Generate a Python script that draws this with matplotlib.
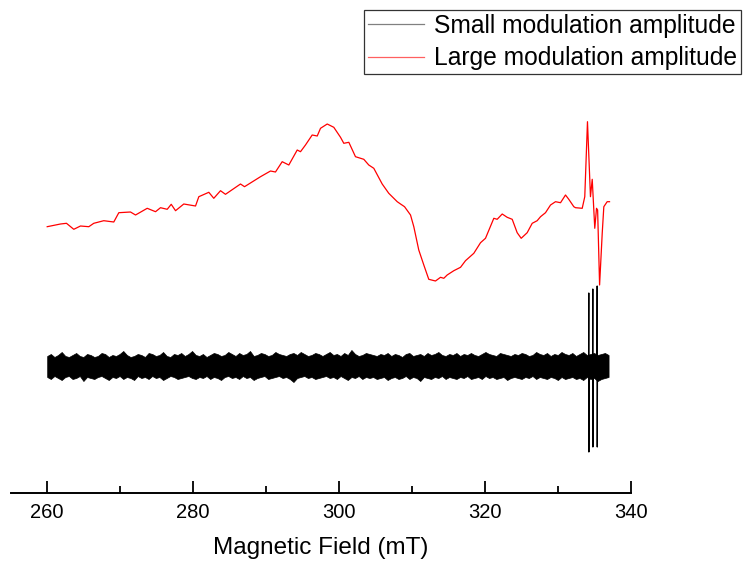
import numpy as np
import matplotlib
matplotlib.use("Agg")
from matplotlib import pyplot as plt

plt.rcParams['font.family'] = ['Liberation Sans', 'DejaVu Sans']

# Large modulation amplitude trace (field in mT, signal in a.u.)
red_field = [260.00, 261.82, 262.64, 263.64, 264.56, 265.70, 266.38, 267.75, 269.12, 269.81,
             271.41, 272.10, 273.70, 274.84, 275.52, 276.44, 276.99, 277.58, 278.71, 280.32,
             280.77, 282.14, 282.82, 283.74, 284.42, 286.48, 287.03, 289.22, 290.59, 291.27,
             292.19, 293.10, 294.25, 294.70, 295.38, 296.30, 296.99, 297.44, 298.36, 299.26,
             300.18, 300.63, 301.32, 302.23, 303.37, 304.05, 304.74, 305.89, 306.79, 307.95,
             308.40, 308.95, 309.77, 310.22, 310.90, 311.59, 312.27, 313.19, 313.88, 314.33,
             314.79, 315.70, 316.62, 317.30, 318.44, 319.36, 320.04, 321.18, 321.64, 322.33,
             323.01, 323.70, 324.38, 324.93, 325.75, 326.44, 327.12, 327.58, 328.26, 328.95,
             329.63, 330.32, 331.00, 331.45, 332.14, 332.37, 333.29, 333.64, 334.01, 334.42,
             334.66, 335.01, 335.25, 335.40, 335.67, 336.03, 336.25, 336.71, 337.03]
red_signal = [266.3, 269.0, 269.7, 263.7, 267.0, 266.3, 269.7, 272.3, 271.0, 280.3,
              281.0, 278.0, 284.7, 281.3, 285.3, 283.7, 288.7, 282.3, 289.0, 287.0,
              296.3, 300.7, 294.7, 302.3, 298.7, 309.0, 306.3, 316.3, 322.0, 321.0,
              331.3, 328.0, 343.0, 341.3, 348.0, 358.0, 357.0, 364.7, 369.0, 365.7,
              355.7, 349.7, 350.7, 336.3, 333.7, 328.0, 324.7, 309.0, 299.7, 291.3,
              289.0, 286.3, 278.0, 266.3, 243.0, 228.0, 213.7, 212.0, 215.7, 214.7,
              218.0, 222.3, 225.7, 232.3, 239.7, 250.3, 254.7, 274.7, 273.7, 279.0,
              275.7, 273.7, 260.3, 254.7, 260.3, 269.7, 272.3, 276.3, 280.3, 288.0,
              291.3, 290.3, 298.0, 293.7, 286.3, 285.3, 284.7, 296.3, 371.3, 296.3,
              313.7, 264.7, 284.7, 283.0, 208.0, 259.7, 286.3, 291.3, 291.3]

# Small modulation amplitude trace: noise band envelope around the baseline
noise_start, noise_end = 260.0, 336.9
baseline = 127
noise_upper = [10, 12, 9, 11, 14, 10, 9, 11, 13, 10, 9, 12, 11,
               9, 10, 13, 12, 9, 11, 10, 12, 15, 11, 9, 10, 12,
               11, 9, 13, 12, 10, 11, 14, 10, 9, 12, 11, 13, 10,
               12, 15, 11, 10, 12, 9, 11, 13, 12, 10, 11, 14, 12,
               10, 13, 11, 12, 15, 10, 11, 13, 12, 10, 11, 14, 12,
               11, 10, 12, 13, 11, 14, 12, 10, 11, 13, 12, 10, 12,
               14, 11, 12, 10, 13, 11, 16, 12, 10, 11, 13, 12, 11,
               10, 12, 11, 13, 10, 12, 11, 9, 12, 13, 10, 11, 12,
               10, 13, 11, 12, 14, 11, 10, 12, 11, 13, 10, 12, 11,
               13, 11, 10, 12, 14, 12, 11, 10, 13, 12, 11, 10, 12,
               11, 13, 12, 10, 11, 14, 12, 11, 13, 10, 12, 11, 14,
               12, 11, 13, 10, 12, 14, 11, 12, 13, 11, 12, 13, 11]
noise_lower = [-11, -13, -10, -12, -14, -11, -10, -13, -12, -10, -15, -11, -12,
               -13, -11, -10, -12, -14, -11, -12, -10, -13, -11, -12, -14, -10,
               -12, -11, -13, -10, -12, -11, -14, -12, -10, -11, -13, -12, -11,
               -10, -12, -13, -11, -12, -10, -13, -11, -12, -14, -11, -10, -12,
               -11, -13, -10, -12, -11, -14, -12, -11, -10, -13, -12, -11, -10,
               -12, -11, -13, -16, -12, -11, -10, -12, -11, -13, -12, -11, -10,
               -12, -11, -13, -10, -12, -14, -11, -12, -10, -13, -11, -12, -11,
               -13, -12, -11, -14, -12, -11, -13, -12, -10, -13, -11, -12, -15,
               -11, -12, -13, -11, -12, -10, -13, -11, -12, -13, -11, -12, -10,
               -13, -12, -11, -13, -10, -12, -11, -13, -12, -11, -14, -12, -11,
               -12, -13, -11, -12, -10, -13, -11, -12, -13, -11, -12, -14, -11,
               -13, -12, -11, -13, -12, -14, -11, -13, -12, -15, -13, -12, -11]

# Sharp lines near 335 mT in the small modulation trace
spike_field = [334.16, 334.19, 334.20, 334.23, 334.71, 334.74, 334.75, 334.78,
               335.31, 335.34, 335.35, 335.38]
spike_signal = [127, 200, 41, 127, 127, 204, 46, 127, 127, 207, 46, 127]

fig = plt.figure(figsize=(7.43, 5.63), dpi=100)
ax = fig.add_axes([10.7 / 743, 70 / 563, 620.5 / 743, 483 / 563])

noise_field = np.linspace(noise_start, noise_end, len(noise_upper))
upper = baseline + np.array(noise_upper)
lower = baseline + np.array(noise_lower)
ax.fill_between(noise_field, lower, upper, color="black", lw=0.5)
ax.plot(spike_field, spike_signal, color="black", lw=0.9)
ax.plot(red_field, red_signal, color="#ff0000", lw=0.9)

# legend proxies
small_line, = ax.plot([], [], color="#808080", lw=0.9, label="Small modulation amplitude")
large_line, = ax.plot([], [], color="#ff6060", lw=0.9, label="Large modulation amplitude")

ax.set_xlim(255, 340)
ax.set_ylim(0, 483)
for side in ["left", "right", "top"]:
    ax.spines[side].set_visible(False)
ax.spines["bottom"].set_linewidth(1.4)
ax.set_yticks([])
ax.set_xticks([260, 280, 300, 320, 340])
ax.set_xticks([270, 290, 310, 330], minor=True)
ax.tick_params(axis="x", which="major", direction="in", length=9, width=1.3,
               labelsize=14.5, pad=7)
ax.tick_params(axis="x", which="minor", direction="in", length=5, width=1.3)
ax.set_xlabel("Magnetic Field (mT)", fontsize=17.5, labelpad=11)

leg = fig.legend(handles=[small_line, large_line], loc="upper right",
                 bbox_to_anchor=(741 / 743, 1 - 10 / 563), borderaxespad=0,
                 fontsize=17.7, fancybox=False, edgecolor="black",
                 handlelength=2.3, handletextpad=0.4, borderpad=0.15,
                 labelspacing=0.35)
leg.get_frame().set_linewidth(0.9)

fig.savefig("out.png", dpi=100)
